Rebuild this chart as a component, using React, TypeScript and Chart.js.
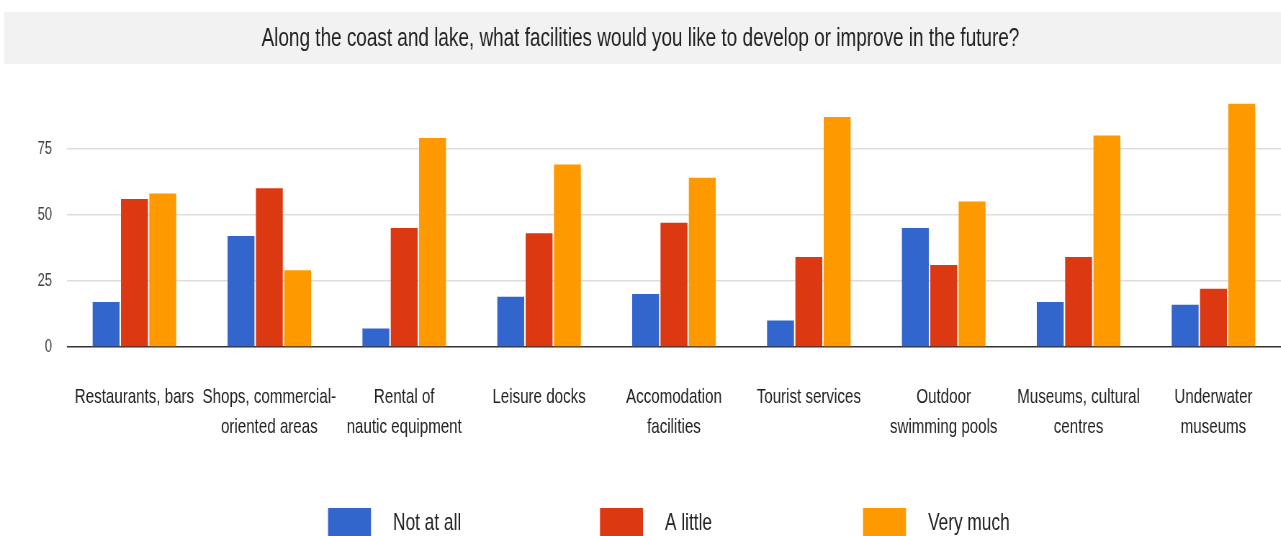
import React, { useEffect, useRef } from "react";
import { Chart, registerables } from "chart.js";

Chart.register(...registerables);

const TITLE = "Along the coast and lake, what facilities would you like to develop or improve in the future?";
const categories: string[][] = [
  ["Restaurants, bars"],
  ["Shops, commercial-", "oriented areas"],
  ["Rental of", "nautic equipment"],
  ["Leisure docks"],
  ["Accomodation", "facilities"],
  ["Tourist services"],
  ["Outdoor", "swimming pools"],
  ["Museums, cultural", "centres"],
  ["Underwater", "museums"],
];
const seriesNames = ["Not at all", "A little", "Very much"];
const notAtAll = [17, 42, 7, 19, 20, 10, 45, 17, 16];
const aLittle = [56, 60, 45, 43, 47, 34, 31, 34, 22];
const veryMuch = [58, 29, 79, 69, 64, 87, 55, 80, 92];
const colors = ["#3366cc", "#dc3912", "#ff9900"];
const yTicks = [0, 25, 50, 75];

// The reference is horizontally condensed; draw wider and squeeze with CSS.
const SQUEEZE = 0.72;
const OUT_W = 1281;
const OUT_H = 536;
const IN_W = Math.round(OUT_W / SQUEEZE);

const SANS = '"Liberation Sans", Arial, sans-serif';

const titleBarPlugin = {
  id: "titleBar",
  beforeDraw(chart: any) {
    const ctx = chart.ctx;
    ctx.save();
    ctx.fillStyle = "#f2f2f2";
    ctx.fillRect(4 / SQUEEZE, 12, chart.width - 4 / SQUEEZE, 52);
    ctx.restore();
  },
};

// legend item starts in output pixels
const legendStarts = [328, 600, 863];

const legendPlugin = {
  id: "customLegend",
  afterDraw(chart: any) {
    const ctx = chart.ctx;
    const box = 43 / SQUEEZE;
    const gapText = 22 / SQUEEZE;
    ctx.save();
    ctx.font = `24px ${SANS}`;
    const top = 508;
    seriesNames.forEach((n, i) => {
      const x = legendStarts[i] / SQUEEZE;
      ctx.fillStyle = colors[i];
      ctx.fillRect(x, top, box, 43);
      ctx.fillStyle = "#222222";
      ctx.textBaseline = "middle";
      ctx.textAlign = "left";
      ctx.fillText(n, x + box + gapText, top + 15);
    });
    ctx.restore();
  },
};

export default function App() {
  const ref = useRef<HTMLCanvasElement | null>(null);
  useEffect(() => {
    if (!ref.current) return;
    const data = [notAtAll, aLittle, veryMuch];
    const chart = new Chart(ref.current, {
      type: "bar",
      data: {
        labels: categories,
        datasets: seriesNames.map((name, i) => ({
          label: name,
          data: data[i],
          backgroundColor: colors[i],
          borderWidth: 0,
          categoryPercentage: 0.63,
          barPercentage: 0.95,
        })),
      },
      options: {
        animation: false,
        responsive: false,
        maintainAspectRatio: false,
        devicePixelRatio: 1,
        layout: { padding: { left: 0, right: 0, top: 0, bottom: 94 } },
        plugins: {
          legend: { display: false },
          tooltip: { enabled: false },
          title: {
            display: true,
            text: TITLE,
            color: "#222222",
            font: { family: SANS, size: 26.3, weight: "normal", lineHeight: 1.2 },
            padding: { top: 23, bottom: 28 },
          },
        },
        scales: {
          x: {
            grid: { display: false, drawTicks: false },
            border: { display: false },
            afterFit: (scale: any) => {
              scale.height = 95;
            },
            ticks: {
              autoSkip: false,
              maxRotation: 0,
              minRotation: 0,
              padding: 35,
              color: "#222222",
              font: { family: SANS, size: 21, lineHeight: 1.43 },
            },
          },
          y: {
            min: 0,
            max: 100,
            afterBuildTicks: (axis: any) => {
              axis.ticks = yTicks.map((v) => ({ value: v }));
            },
            afterFit: (scale: any) => {
              scale.width = 67 / SQUEEZE;
            },
            border: { display: false },
            grid: {
              drawTicks: false,
              lineWidth: 1.5,
              color: (c: any) => (c.tick && c.tick.value === 0 ? "#333333" : "#dddddd"),
            },
            ticks: {
              padding: 15 / SQUEEZE,
              color: "#444444",
              font: { family: SANS, size: 18 },
            },
          },
        },
      },
      plugins: [titleBarPlugin, legendPlugin],
    });
    return () => chart.destroy();
  }, []);
  return (
    <div
      style={{
        position: "fixed",
        left: 0,
        top: 0,
        width: OUT_W,
        height: OUT_H,
        overflow: "hidden",
        background: "#ffffff",
      }}
    >
      <canvas
        ref={ref}
        width={IN_W}
        height={OUT_H}
        style={{
          display: "block",
          width: IN_W,
          height: OUT_H,
          transform: `scaleX(${SQUEEZE})`,
          transformOrigin: "0 0",
        }}
      />
    </div>
  );
}
